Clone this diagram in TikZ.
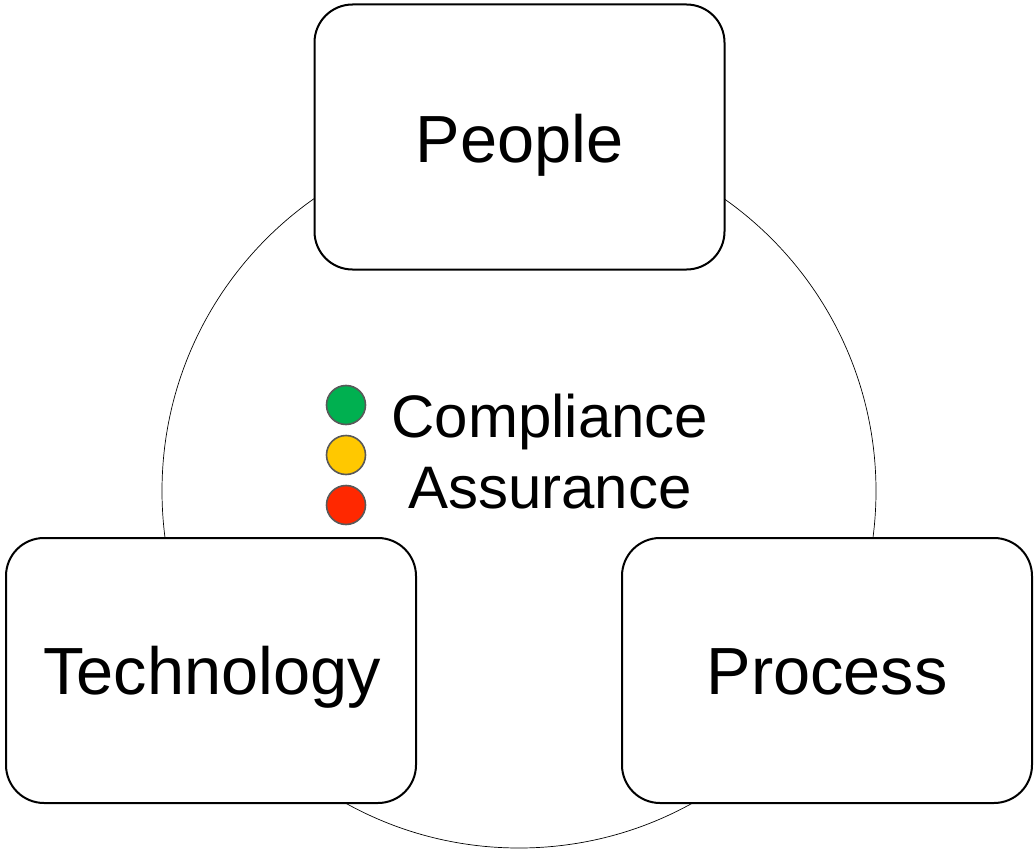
\documentclass[tikz,border=0pt]{standalone}
\usepackage{fontspec}
\setmainfont{Liberation Sans}
\begin{document}
\begin{tikzpicture}[x=1pt,y=-1pt,
  box/.style={draw=black,line width=2pt,fill=white,rounded corners=38pt,minimum width=410pt,minimum height=265pt,inner sep=0pt},
  lbl/.style={font=\fontsize{66.7}{80}\selectfont,anchor=base,inner sep=0pt},
  mid/.style={font=\fontsize{60}{70}\selectfont,anchor=base,inner sep=0pt},
  dot/.style={circle,draw=black!65,line width=1.6pt,minimum size=39pt,inner sep=0pt}]
\useasboundingbox (0,0) rectangle (1034,851);
\node[circle,draw=black,line width=0.7pt,minimum size=714pt,inner sep=0pt] (ring) at (519,491) {};
\node[box] (people) at (519.5,137) {};
\node[box] (tech) at (211,670.5) {};
\node[box] (proc) at (827,670.5) {};
\node[lbl] (tpeople) at (519.5,162) {People};
\node[lbl] (ttech) at (212,694) {Technology};
\node[lbl] (tproc) at (827,694) {Process};
\node[dot,fill={rgb,255:red,0;green,176;blue,80}] (g) at (346,405) {};
\node[dot,fill={rgb,255:red,255;green,200;blue,0}] (y) at (346,455) {};
\node[dot,fill={rgb,255:red,255;green,40;blue,0}] (r) at (346,505) {};
\node[mid] (c1) at (550,437) {Compliance};
\node[mid] (c2) at (550,508) {Assurance};
\end{tikzpicture}
\end{document}
